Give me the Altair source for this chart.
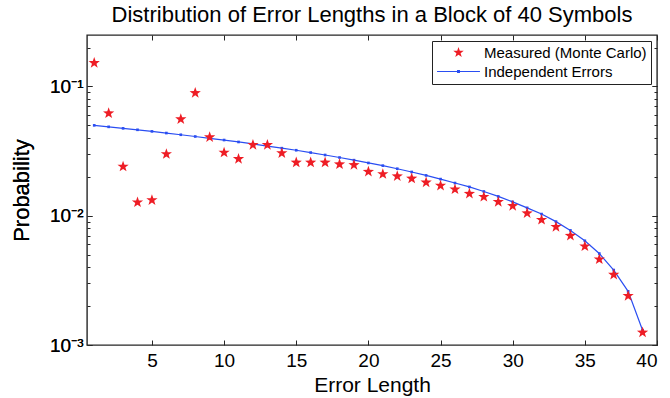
import math
import altair as alt
import pandas as pd

# Error lengths 1..39 in a block of 40 symbols
error_length = list(range(1, 40))

measured = [
    0.152, 0.062, 0.024, 0.0127, 0.0132, 0.030, 0.0558, 0.089, 0.0405, 0.0308,
    0.0275, 0.0353, 0.0353, 0.0305, 0.0258, 0.0258, 0.0258, 0.0250, 0.0247, 0.0219,
    0.0210, 0.0202, 0.0194, 0.0181, 0.0171, 0.0160, 0.0148, 0.0140, 0.0128, 0.0119,
    0.01045, 0.0093, 0.0082, 0.0070, 0.0058, 0.0046, 0.0035, 0.0024, 0.00125,
]

independent = [
    0.0500, 0.0487, 0.0474, 0.0462, 0.0449, 0.0436, 0.0423, 0.0410, 0.0397, 0.0385,
    0.0372, 0.0359, 0.0346, 0.0333, 0.0321, 0.0308, 0.0295, 0.0282, 0.0269, 0.0256,
    0.0244, 0.0231, 0.0218, 0.0205, 0.0192, 0.0179, 0.0167, 0.0154, 0.0141, 0.0128,
    0.0115, 0.0103, 0.0090, 0.0077, 0.0064, 0.0051, 0.0038, 0.0026, 0.0013,
]

series_names = ["Measured (Monte Carlo)", "Independent Errors"]
x_ticks = [5, 10, 15, 20, 25, 30, 35, 40]
y_major = [0.001, 0.01, 0.1]
y_minor = [m * d for d in (0.001, 0.01, 0.1) for m in range(2, 10) if m * d <= 0.25]

RED = "#ee1d25"
BLUE = "#2a4ef2"
FRAME = "#262626"
FONT = "Liberation Sans"
W, H = 570, 310


def star_path(inner=0.4):
    pts = []
    for i in range(10):
        r = 1.0 if i % 2 == 0 else inner
        a = -math.pi / 2 + i * math.pi / 5
        pts.append(f"{r * math.cos(a):.4f},{r * math.sin(a):.4f}")
    return "M" + "L".join(pts) + "Z"


# legend glyph: a thin line with a small dot in the middle
line_glyph = (
    "M-3.9,-0.09H3.9V0.09H-3.9Z"
    "M-0.27,-0.27H0.27V0.27H-0.27Z"
)

df_meas = pd.DataFrame({"k": error_length, "p": measured, "series": series_names[0]})
df_ind = pd.DataFrame({"k": error_length, "p": independent, "series": series_names[1]})

x_scale = alt.Scale(domain=[0.5, 40], nice=False, zero=False)
y_scale = alt.Scale(type="log", domain=[0.001, 0.25], nice=False)

axis_style = dict(
    domain=False,
    ticks=False,
    labelFont=FONT,
    labelFontSize=19,
    labelColor="black",
    titleFont=FONT,
    titleFontSize=21,
    titleFontWeight="normal",
    titleColor="black",
    grid=True,
    gridColor=FRAME,
    gridOpacity=1,
    gridWidth=1,
)

# inward tick marks drawn as dashed grid lines touching both frame edges
x_axis = alt.Axis(
    orient="bottom",
    values=x_ticks,
    title="Error Length",
    gridDash=[5, H - 10],
    labelPadding=6,
    titlePadding=4,
    **axis_style,
)

y_axis_left = alt.Axis(
    orient="left",
    values=y_major,
    labelExpr="'10' + (datum.value < 0.005 ? '⁻³' : datum.value < 0.05 ? '⁻²' : '⁻¹')",
    title="Probability",
    gridDash=[5, W - 10],
    labelPadding=4,
    titlePadding=16,
    **{**axis_style, "titleFontSize": 22},
)

y_axis_minor = alt.Axis(
    orient="right",
    values=y_minor,
    labels=False,
    title=None,
    gridDash=[3, W - 6],
    **axis_style,
)

legend_style = dict(
    title=None,
    orient="top-right",
    offset=6,
    strokeColor="#222222",
    fillColor="white",
    padding=4,
    labelFont=FONT,
    labelFontSize=15,
    labelColor="black",
    labelLimit=400,
    symbolSize=121,
    symbolOffset=15,
    labelOffset=18,
    rowPadding=3,
    symbolStrokeWidth=0,
)

line = alt.Chart(df_ind).mark_line(color=BLUE, strokeWidth=1.2).encode(
    x=alt.X("k:Q", scale=x_scale, axis=x_axis),
    y=alt.Y("p:Q", scale=y_scale, axis=y_axis_left),
)

dots = alt.Chart(df_ind).mark_point(
    shape="square", filled=True, size=7, color=BLUE, opacity=1
).encode(
    x=alt.X("k:Q", scale=x_scale, axis=x_axis),
    y=alt.Y("p:Q", scale=y_scale, axis=y_axis_left),
)

stars = alt.Chart(df_meas).mark_point(filled=True, size=140, opacity=1).encode(
    x=alt.X("k:Q", scale=x_scale, axis=x_axis),
    y=alt.Y("p:Q", scale=y_scale, axis=y_axis_minor),
    color=alt.Color(
        "series:N",
        scale=alt.Scale(domain=series_names, range=[RED, BLUE]),
        legend=alt.Legend(**legend_style),
    ),
    shape=alt.Shape(
        "series:N",
        scale=alt.Scale(domain=series_names, range=[star_path(), line_glyph]),
        legend=alt.Legend(**legend_style),
    ),
)

chart = (
    alt.layer(line, dots, stars)
    .resolve_axis(y="independent")
    .properties(
        width=W,
        height=H,
        background="white",
        autosize=alt.AutoSizeParams(type="none"),
        padding={"left": 87, "top": 35, "right": 13, "bottom": 53},
        title=alt.Title(
            "Distribution of Error Lengths in a Block of 40 Symbols",
            font=FONT,
            fontSize=22,
            fontWeight="normal",
            color="black",
            offset=8,
        ),
    )
    .configure_view(stroke=FRAME, strokeWidth=1.4)
)

chart.save("out.html", embed_options={"renderer": "svg", "actions": False})
